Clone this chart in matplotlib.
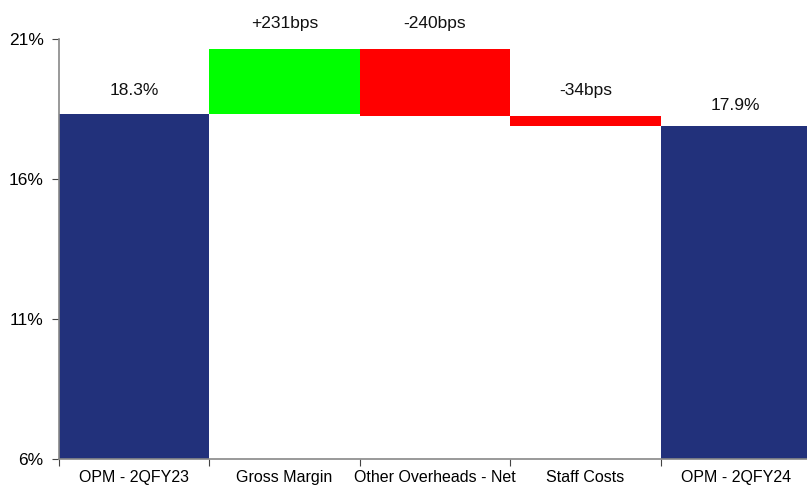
import matplotlib
matplotlib.use("Agg")
import matplotlib.pyplot as plt
import numpy as np

categories = ["OPM - 2QFY23", "Gross Margin", "Other Overheads - Net", "Staff Costs", "OPM - 2QFY24"]
start_opm = 18.33
changes_bps = [231, -240, -34]
end_opm = 17.90
labels = ["18.3%", "+231bps", "-240bps", "-34bps", "17.9%"]
yticks = [6, 11, 16, 21]

plt.rcParams['font.family'] = ['Liberation Sans', 'DejaVu Sans']

fig = plt.figure(figsize=(8.07, 4.90), dpi=100)
ax = fig.add_axes([59/807, 31/490, 752/807, 420/490])

navy = "#22317B"
x = np.arange(len(categories))

bottoms, heights, colors = [], [], []
bottoms.append(6); heights.append(start_opm - 6); colors.append(navy)
level = start_opm
for c in changes_bps:
    d = c / 100.0
    new = level + d
    bottoms.append(min(level, new)); heights.append(abs(d))
    colors.append("#00FF00" if d > 0 else "#FF0000")
    level = new
bottoms.append(6); heights.append(end_opm - 6); colors.append(navy)

ax.bar(x, heights, bottom=bottoms, width=1.0, color=colors, linewidth=0, zorder=2)

offsets = [11, 13, 13, 13, 9]
for i, lab in enumerate(labels):
    top = bottoms[i] + heights[i]
    ax.annotate(lab, (x[i], top), xytext=(0, offsets[i]), textcoords="offset points",
                ha="center", va="bottom", fontsize=12.5, color="#111111", annotation_clip=False)

ax.set_xlim(-0.5, 4.5)
ax.set_ylim(6, 21)
ax.set_yticks(yticks)
ax.set_yticklabels([f"{t}%" for t in yticks], fontsize=12.5)
ax.set_xticks(np.arange(len(categories)+1) - 0.5)
ax.set_xticklabels([])
ax.set_xticks(x, minor=True)
ax.set_xticklabels(categories, minor=True, fontsize=11.5)
ax.tick_params(axis='x', which='minor', length=0, pad=8)
ax.tick_params(axis='x', which='major', length=5, direction='out', color='#444444')
ax.tick_params(axis='y', length=5, direction='out', color='#444444', pad=6)
for s in ["top", "right"]:
    ax.spines[s].set_visible(False)
ax.spines["left"].set_color("#888888")
ax.spines["bottom"].set_color("#888888")
ax.spines["left"].set_linewidth(1.2)
ax.spines["bottom"].set_linewidth(1.2)
ax.spines["bottom"].set_zorder(3)

fig.savefig("out.png", dpi=100)
